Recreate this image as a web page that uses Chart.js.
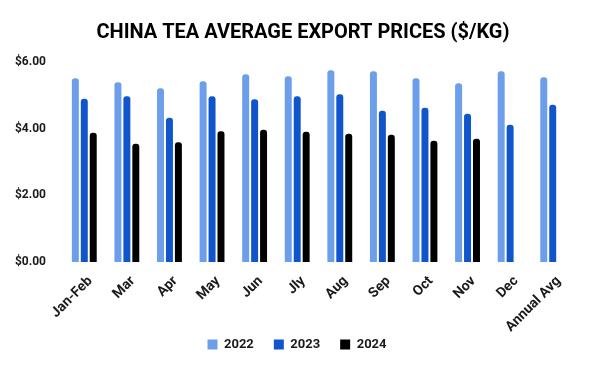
<!DOCTYPE html>
<html>
<head>
<meta charset="utf-8">
<script src="https://cdn.jsdelivr.net/npm/chart.js@4/dist/chart.umd.min.js"></script>
<style>
  html, body { margin: 0; padding: 0; background: #fff; }
  #wrap { width: 600px; height: 371px; }
</style>
</head>
<body>
<div id="wrap"><canvas id="chart"></canvas></div>
<script>
const months = ['Jan-Feb', 'Mar', 'Apr', 'May', 'Jun', 'Jly', 'Aug', 'Sep', 'Oct', 'Nov', 'Dec', 'Annual Avg'];
const prices2022 = [5.51, 5.39, 5.21, 5.42, 5.63, 5.57, 5.75, 5.72, 5.51, 5.36, 5.72, 5.54];
const prices2023 = [4.90, 4.97, 4.33, 4.97, 4.88, 4.97, 5.03, 4.54, 4.63, 4.45, 4.12, 4.72];
const prices2024 = [3.88, 3.55, 3.59, 3.92, 3.97, 3.91, 3.85, 3.82, 3.64, 3.70, null, null];
const yTicks = [0, 2, 4, 6];

const bold = (size) => ({ family: 'Roboto', size: size, weight: 'bold' });

function barSet(label, data, color) {
    return {
        label: label,
        data: data,
        backgroundColor: color,
        borderRadius: { topLeft: 3, topRight: 3 },
        borderSkipped: 'bottom',
        categoryPercentage: 0.63,
        barPercentage: 0.78
    };
}

// nudge title/legend to the right and let x labels draw below the fixed axis box
const nudge = {
    id: 'nudge',
    afterLayout(chart) {
        chart.titleBlock.left += 16;
        chart.titleBlock.right += 16;
        chart.legend.left += 10;
        chart.legend.right += 10;
        chart.scales.x.bottom = chart.height;
    }
};

new Chart(document.getElementById('chart'), {
    type: 'bar',
    data: {
        labels: months,
        datasets: [
            barSet('2022', prices2022, '#6d9eeb'),
            barSet('2023', prices2023, '#1155cc'),
            barSet('2024', prices2024, '#000000')
        ]
    },
    plugins: [nudge],
    options: {
        responsive: true,
        maintainAspectRatio: false,
        animation: false,
        layout: { padding: { left: 0, right: 26, top: 0, bottom: 10 } },
        plugins: {
            title: {
                display: true,
                text: 'CHINA TEA AVERAGE EXPORT PRICES ($/KG)',
                color: '#000',
                font: bold(20),
                padding: { top: 21, bottom: 17 }
            },
            legend: {
                position: 'bottom',
                labels: {
                    color: '#1a1a1a',
                    font: bold(13),
                    boxWidth: 10,
                    boxHeight: 10,
                    padding: 20
                }
            },
            tooltip: { enabled: false }
        },
        scales: {
            x: {
                grid: { display: false },
                border: { display: false },
                afterFit: (scale) => { scale.height = 56; },
                ticks: {
                    color: '#1a1a1a',
                    font: bold(14),
                    minRotation: 45,
                    maxRotation: 45,
                    labelOffset: 6,
                    autoSkip: false
                }
            },
            y: {
                min: 0,
                max: 6,
                grid: { display: false },
                border: { display: false },
                afterBuildTicks: (scale) => {
                    scale.ticks = yTicks.map(v => ({ value: v }));
                },
                afterFit: (scale) => { scale.width = 63; },
                ticks: {
                    color: '#1a1a1a',
                    font: bold(12),
                    padding: 9,
                    callback: (v) => '$' + Number(v).toFixed(2)
                }
            }
        }
    }
});
</script>
</body>
</html>
